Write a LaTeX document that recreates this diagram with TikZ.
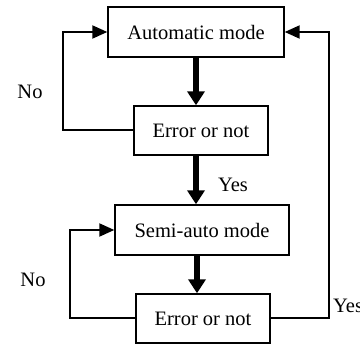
\documentclass[tikz,border=0pt]{standalone}
\usepackage{fontspec}
\setmainfont{Liberation Serif}
\usetikzlibrary{arrows.meta,calc}
\begin{document}
\begin{tikzpicture}[x=1pt,y=-1pt,
  box/.style={draw,line width=1.4pt,inner sep=0pt,font=\fontsize{20.5}{24}\selectfont},
  lbl/.style={font=\fontsize{20.5}{24}\selectfont,inner sep=0pt},
  bigarrow/.style={line width=6pt,-{Triangle[length=14pt,width=17pt]}},
  loop/.style={line width=2pt,-{Triangle[length=15pt,width=13pt]}}]
  \fill[white] (0,0) rectangle (360,347);
  \useasboundingbox (0,0) rectangle (360,347);

  % mode and check boxes
  \node[box,minimum width=176pt,minimum height=50pt] (a1) at (196,32) {Automatic mode};
  \node[box,minimum width=134pt,minimum height=49pt] (e1) at (201,130.5) {Error or not};
  \node[box,minimum width=174pt,minimum height=50pt] (s1) at (202,230) {Semi-auto mode};
  \node[box,minimum width=134pt,minimum height=49pt] (e2) at (203,318.5) {Error or not};

  % main flow
  \draw[bigarrow] (a1.south) -- (a1.south |- e1.north);
  \draw[bigarrow] (e1.south -| a1.south) -- (s1.north -| a1.south);
  \draw[bigarrow] ($(s1.south -| a1.south)+(1,0)$) -- ($(e2.north -| a1.south)+(1,0)$);

  % retry loops
  \coordinate (l1) at (63,0);
  \coordinate (l2) at (70,0);
  \coordinate (rt) at (329,0);
  \draw[loop] (e1.west) -- (e1.west -| l1) |- (a1.west);
  \draw[loop] (e2.west) -- (e2.west -| l2) |- (s1.west);
  \draw[loop] (e2.east) -- (e2.east -| rt) |- (a1.east);

  % branch labels
  \node[lbl] (no1) at (30,92) {No};
  \node[lbl] (no2) at (33,280) {No};
  \node[lbl] (yes1) at (233,185) {Yes};
  \node[lbl,anchor=west] (yes2) at (333,306) {Yes};
\end{tikzpicture}
\end{document}
